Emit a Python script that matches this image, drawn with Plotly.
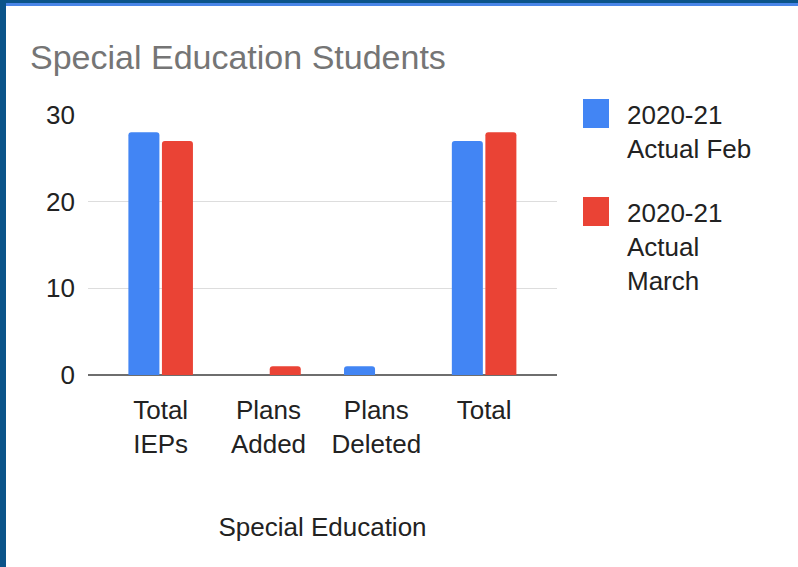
import plotly.graph_objects as go

categories = ["Total<br>IEPs", "Plans<br>Added", "Plans<br>Deleted", "Total"]
feb_values = [28, 0, 1, 27]
march_values = [27, 1, 0, 28]
series_names = ["2020-21<br>Actual Feb", "2020-21<br>Actual<br>March"]
colors = ["#4285F4", "#EA4335"]

W, H = 798, 567
L, R, T, B = 88, 557, 115, 375  # plot area in pixels


def px(x):
    return (x - L) / (R - L)


def py(y):
    return (B - y) / (B - T)


fig = go.Figure()
for name, vals, col in zip(series_names, [feb_values, march_values], colors):
    fig.add_trace(go.Bar(x=categories, y=vals, name=name, marker_color=col,
                         marker_line_width=0, marker_cornerradius=3))

# frame around the card
fig.add_shape(type="rect", xref="paper", yref="paper", x0=px(0), x1=px(6), y0=py(H), y1=py(0),
              fillcolor="#0B5489", line_width=0, layer="above")
fig.add_shape(type="rect", xref="paper", yref="paper", x0=px(6), x1=px(W), y0=py(3), y1=py(0),
              fillcolor="#0B5489", line_width=0, layer="above")
fig.add_shape(type="rect", xref="paper", yref="paper", x0=px(6), x1=px(W), y0=py(6), y1=py(3),
              fillcolor="#4A86E8", line_width=0, layer="above")

# legend, drawn by hand so the swatches can be large
legend_tops = [99, 197]
for name, col, top in zip(series_names, colors, legend_tops):
    fig.add_shape(type="rect", xref="paper", yref="paper", x0=px(583), x1=px(609),
                  y0=py(top + 29), y1=py(top), fillcolor=col, line_width=0)
    fig.add_annotation(text=name, xref="paper", yref="paper", x=px(625), y=py(top - 1),
                       xanchor="left", yanchor="top", align="left", showarrow=False,
                       font=dict(size=26, color="#222222"))

fig.update_layout(
    width=W, height=H,
    margin=dict(l=L, r=W - R, t=T, b=H - B, pad=0),
    paper_bgcolor="white", plot_bgcolor="white",
    font=dict(family="Liberation Sans, Arial, sans-serif", size=26, color="#222222"),
    title=dict(text="Special Education Students", x=30 / W, xanchor="left", xref="container",
               y=1 - 57 / H, yanchor="middle", yref="container",
               font=dict(size=34, color="#757575")),
    showlegend=False,
    barmode="group", bargap=0.378, bargroupgap=0.075,
    xaxis=dict(range=[-0.674, 3.676], showgrid=False, showline=False, ticks="",
               ticklabelstandoff=17,
               title=dict(text="Special Education", standoff=60, font=dict(size=26, color="#222222")),
               tickfont=dict(size=26, color="#222222")),
    yaxis=dict(range=[0, 30], tickvals=[0, 10, 20, 30], gridcolor="#DDDDDD", gridwidth=1,
               zeroline=True, zerolinecolor="#6E6E6E", zerolinewidth=2, showline=False,
               ticks="", ticklabelstandoff=12, tickfont=dict(size=26, color="#222222")),
)

fig.write_html("out.html", config={"displayModeBar": False},
               post_script="document.body.style.margin='0';")
